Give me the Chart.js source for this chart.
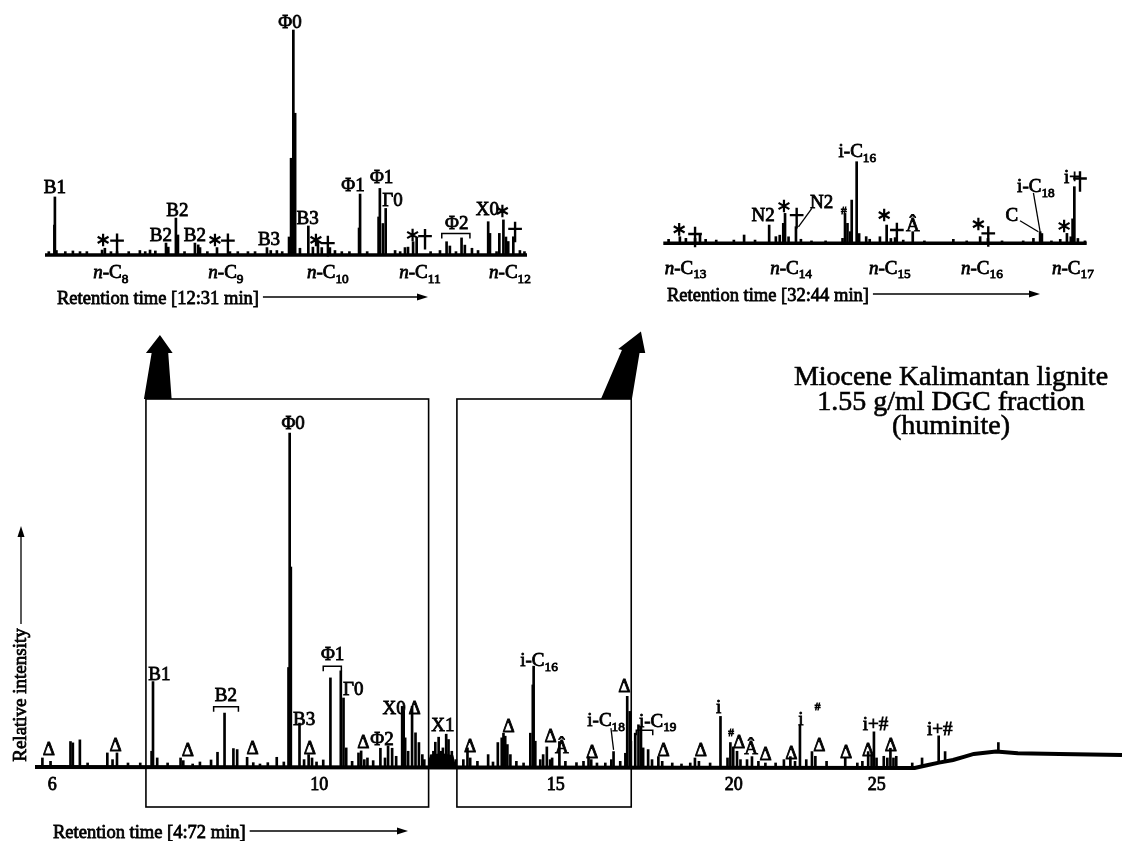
<!DOCTYPE html>
<html><head><meta charset="utf-8">
<script src="https://cdn.jsdelivr.net/npm/chart.js@4.4.1/dist/chart.umd.min.js"></script>
<style>
html,body{margin:0;padding:0;background:#fff;}
#wrap{position:relative;width:1122px;height:841px;overflow:hidden;background:#fff;}
canvas{position:absolute;left:0;top:0;}
</style></head><body>
<div id="wrap">
<canvas id="main" width="1122" height="841"></canvas>
<canvas id="inset1" width="1122" height="841"></canvas>
<canvas id="inset2" width="1122" height="841"></canvas>
</div>
<script>
// ================= DATA =================
// Main chromatogram: retention time (min), relative intensity (Φ0 = 100)
const mainTicks = [6, 10, 15, 20, 25];
const MAIN_T_MIN = 5.79, MAIN_T_MAX = 36.24;
const mainPeakT = [
 5.88,5.98,6.23,6.26,6.35,6.45,6.71,6.78,6.84,6.99,
 7.16,7.32,7.34,7.40,7.55,7.74,7.78,7.92,8.03,8.20,
 8.30,8.41,8.55,8.61,8.77,8.87,8.98,9.11,9.26,9.38,
 9.46,9.48,9.50,9.65,9.73,9.81,9.87,9.95,10.07,10.20,
 10.39,10.44,10.49,10.60,10.72,10.77,10.83,10.89,11.00,11.14,
 11.23,11.29,11.37,11.45,11.57,11.60,11.63,11.69,11.77,11.84,
 11.91,11.98,12.02,12.15,12.21,12.25,12.32,12.37,12.41,12.48,
 12.53,12.60,12.69,12.85,12.94,13.00,13.16,13.40,13.51,13.62,
 13.71,13.75,13.79,13.84,13.91,14.05,14.22,14.38,14.44,14.46,
 14.50,14.62,14.69,14.78,14.86,14.91,15.09,15.24,15.52,15.70,
 15.83,15.90,16.05,16.27,16.43,16.49,16.67,16.81,16.86,16.93,
 16.96,17.08,17.17,17.24,17.30,17.44,17.55,17.73,17.84,18.13,
 18.40,18.66,18.80,18.92,19.26,19.58,19.80,19.89,19.98,20.10,
 20.21,20.42,20.58,20.79,21.02,21.36,21.64,21.86,22.02,22.19,
 22.41,22.61,22.73,23.13,23.81,24.26,24.45,24.67,24.80,24.89,
 24.99,25.27,25.41,25.53,25.65,25.76,26.40];
const mainPeakH = [
 3.0,2.0,7.9,7.5,8.4,1.5,4.5,2.5,4.5,1.5,
 1.5,5.0,25.8,3.0,1.5,3.0,2.2,1.2,1.8,2.4,
 4.7,16.4,5.8,5.5,3.2,1.6,1.2,1.6,3.2,1.8,
 30,100,60,13.4,2.5,4.0,3.0,1.8,2.4,26.9,
 29.0,20.9,6.0,2.0,4.5,5.1,2.5,3.0,2.2,5.9,
 3.0,6.6,5.9,3.5,18.4,17.0,9.0,5.0,18.4,10.5,
 7.6,4.0,2.5,3.0,5.0,7.7,9.2,5.0,6.0,10.1,
 8.5,5.0,2.5,2.5,6.0,3.0,2.0,4.0,1.8,7.6,
 9.0,10.4,9.5,7.0,4.0,2.0,1.5,10.4,24.8,30.4,
 8.0,2.5,4.0,6.3,2.5,3.0,7.9,2.0,1.6,2.0,
 3.4,2.5,1.5,1.5,2.5,4.9,2.0,4.4,21.4,16.9,
 8.0,10.4,12.9,12.5,6.0,5.5,2.5,3.4,2.0,1.5,
 1.2,1.5,3.0,2.0,1.5,15.4,3.0,7.6,6.3,5.0,
 2.5,2.5,3.4,2.0,1.5,1.5,2.5,3.4,2.0,12.8,
 2.5,4.9,3.5,2.0,3.0,1.5,2.0,4.9,4.0,10.8,
 3.0,3.5,3.0,5.9,3.0,3.5,1.5];
const mainBaseT = [5.79,26.5,27.0,27.5,28.1,28.6,29.0,30.0,31.0,33.0,36.24];
const mainBaseY = [0.3,0,0.8,1.6,2.4,3.4,4.2,4.9,4.4,4.2,3.9];
const x1HumpT = [12.11,12.15,12.40,12.62,12.68];
const x1HumpY = [0,3.8,4.2,3.6,0];
const driftPeakT = [26.80,27.49,27.76,30.10];
const driftPeakBase = [0.6,1.6,1.9,4.9];
const driftPeakTop = [3.0,9.6,4.9,7.6];
const boxStart = [7.24,12.71];
const boxEnd = [12.11,16.97];
const mainLabelText = ['B1','B2','B3','Φ0','Φ1','Γ0','Δ','Φ2','X0','Δ','X1','i-C_16','i-C_18','i-C_19','i','#','i','#','i+#','i+#',
 'Δ','Δ','Δ','Δ','Δ','Δ','Δ','Δ','Δ','Δ','Δ','Δ','Δ','Δ','Δ','Δ','Δ','Δ','Δ','Â','Â'];
const mainLabelT = [7.43,8.43,9.73,9.54,10.24,10.62,10.81,11.17,11.41,11.82,12.41,14.59,16.29,17.71,19.52,19.91,22.22,22.81,24.95,27.53,
 5.96,6.82,7.85,8.86,9.83,13.00,13.87,14.87,15.92,16.78,17.88,18.98,20.17,21.03,21.89,22.87,23.84,24.67,25.55,15.15,20.55];
const mainLabelY = [28.2,21.8,14.6,103.0,34.0,23.6,7.9,8.7,17.9,17.9,12.8,32.2,14.3,14.2,18.3,10.8,14.8,18.3,13.3,11.6,
 5.9,6.9,5.4,6.0,6.0,6.6,12.5,9.6,4.8,24.5,5.4,5.4,7.8,4.2,4.6,6.9,4.8,5.4,7.0,6.5,6.2];
const mainBracketStart = [8.24,10.07,17.11];
const mainBracketEnd = [8.63,10.40,17.57];
const mainBracketY = [18.3,30.4,11.3];
const mainLeaderT0 = [16.42], mainLeaderY0 = [11.9], mainLeaderT1 = [16.49], mainLeaderY1 = [5.4];
const mainCaption = 'Retention time [4:72 min]';
const mainYTitle = 'Relative intensity';
const titleLines = ['Miocene Kalimantan lignite','1.55 g/ml DGC fraction','(huminite)'];

// Inset 1: 12–31 min window (Φ0 = 100)
const INS1_T_MIN = 12, INS1_T_MAX = 31;
const ins1PeakT = [
 12.15,12.37,12.39,12.45,12.80,13.10,13.38,13.65,14.25,14.36,
 14.60,14.84,15.30,15.74,15.95,16.14,16.35,16.77,16.86,17.16,
 17.24,17.50,17.91,18.04,18.11,18.40,18.78,19.29,19.60,20.00,
 20.28,20.75,20.90,21.14,21.35,21.62,21.70,21.79,21.86,22.05,
 22.38,22.56,22.76,22.91,23.23,23.43,23.70,24.00,24.38,24.42,
 24.70,25.15,25.20,25.32,25.43,25.80,26.00,26.19,26.31,26.51,
 26.65,27.20,27.57,27.83,27.96,28.20,28.42,28.55,28.83,29.07,
 29.47,29.54,29.80,29.91,30.07,30.17,30.26,30.46,30.72,30.90];
const ins1PeakH = [
 1.5,13.3,25.8,2.0,1.5,1.8,1.5,1.5,2.2,3.0,
 1.5,1.5,1.5,2.0,1.5,2.2,1.8,5.3,3.5,16.4,
 8.9,1.5,5.3,4.5,3.3,1.5,3.3,1.5,1.5,1.5,
 1.5,3.3,2.0,2.0,1.5,8.0,43,100,63,3.0,
 12.9,3.5,5.9,3.3,3.3,2.0,1.5,1.5,12.0,27.1,
 1.5,16.9,29.6,14.0,20.7,2.0,1.5,3.3,3.5,5.9,
 7.4,1.5,2.0,5.9,4.0,1.5,7.6,4.4,3.0,2.0,
 14.8,9.6,1.5,9.6,15.6,8.0,6.0,8.1,2.0,1.5];
const ins1BaseT = [12.0,31.0];
const ins1BaseY = [0,0];
const ins1LabelText = ['B1','*','†','B2','B2','B2','*','†','B3','Φ0','B3','*','†','Φ1','Φ1','Γ0','*','†','Φ2','X0','*','†'];
const ins1LabelT = [12.39,14.29,14.84,16.57,17.22,17.91,18.70,19.21,20.83,21.66,22.35,22.68,23.15,24.14,25.27,25.70,26.49,26.98,28.23,29.44,30.03,30.53];
const ins1LabelY = [30.2,6.7,6.4,8.9,20,8.9,6.7,6.4,7.1,103.6,16.7,6.7,5.3,31.1,34.8,24.4,8.9,8.4,14.2,20.4,19.6,11.6];
const ins1NText = ['n-C_8','n-C_9','n-C_10','n-C_11','n-C_12'];
const ins1NT = [14.59,19.13,23.15,26.78,30.33];
const ins1BracketStart = [27.64], ins1BracketEnd = [28.75], ins1BracketY = [9.6];
const ins1Caption = 'Retention time [12:31 min]';

// Inset 2: 32–44 min window (i-C16 = 100)
const INS2_T_MIN = 32, INS2_T_MAX = 44;
const ins2PeakT = [32.15,32.47,32.64,32.90,33.04,33.20,33.50,34.00,34.29,34.60,
 35.00,35.19,35.30,35.40,35.45,35.55,35.76,35.90,36.20,36.60,
 37.08,37.15,37.22,37.30,37.34,37.48,37.55,37.75,37.85,38.14,
 38.33,38.45,38.57,38.80,39.07,39.40,40.22,40.60,40.98,41.20,
 41.60,42.20,42.49,42.68,42.73,43.00,43.25,43.44,43.55,43.60,
 43.65,43.75,43.95];
const ins2PeakH = [4.9,8.1,6.1,6.1,10.2,4.9,4,4,10.2,4,
 22.4,8.2,10,24.5,36.7,8,20.4,5,3,3,
 6.1,36.7,24.5,14.3,53,100,12,8.2,5,8.1,
 22.4,6,7,4,14.3,3,4.9,3,8.2,6,
 3,3,6.1,14.3,12,3,4.9,12.2,8,30,
 69.4,6,3];
const ins2BaseT = [32.0,44.0];
const ins2BaseY = [0,0];
const ins2LabelText = ['*','†','N2','*','†','N2','#','i-C_16','*','†','Â','*','†','C','i-C_18','*','i+','†'];
const ins2LabelT = [32.45,32.90,34.83,35.42,35.78,36.49,37.12,37.50,38.26,38.62,39.07,40.93,41.21,41.88,42.56,43.36,43.58,43.81];
const ins2LabelY = [17.1,11.4,34.6,45.7,34.6,50.9,40,113.3,34.6,16.3,23,23.6,12.2,34.6,70.1,21.2,81.5,79.4];
const ins2LeaderT0 = [36.21,42.11,42.49], ins2LeaderY0 = [42.8,27.7,61.9];
const ins2LeaderT1 = [35.83,42.63,42.68], ins2LeaderY1 = [20.3,14.2,14.2];
const ins2NText = ['n-C_13','n-C_14','n-C_15','n-C_16','n-C_17'];
const ins2NT = [32.63,35.62,38.42,41.03,43.61];
const ins2Caption = 'Retention time [32:44 min]';

// ================= DRAW HELPERS =================
const OFF = 3; // main axis: log(t + OFF) retention scale
const FONT = '"Liberation Serif","Times New Roman",serif';
const LABEL_SIZE = 19;
const TEXT_STROKE = 0.8;
function fontStr(size, italic){ return (italic ? 'italic ' : '') + size.toFixed(1) + 'px ' + FONT; }
function drawRich(ctx, text, cx, cy, size){
  const k = text.indexOf('_');
  const main = k >= 0 ? text.slice(0, k) : text;
  const sub = k >= 0 ? text.slice(k + 1) : '';
  const parts = [];
  if (main.startsWith('n-')) { parts.push({s:'n', it:true, sz:size}); parts.push({s:main.slice(1), sz:size}); }
  else parts.push({s:main, sz:size});
  if (sub) parts.push({s:sub, sz:size*0.7, dy:size*0.25});
  let w = 0;
  parts.forEach(p => { ctx.font = fontStr(p.sz, p.it); p.w = ctx.measureText(p.s).width; w += p.w; });
  let x = cx - w/2;
  const base = cy + size*0.33;
  ctx.textAlign = 'left'; ctx.textBaseline = 'alphabetic';
  parts.forEach(p => { ctx.font = fontStr(p.sz, p.it); const y = base + (p.dy || 0); ctx.fillText(p.s, x, y); ctx.strokeText(p.s, x, y); x += p.w; });
}
function drawAsterisk(ctx, x, y, r){
  ctx.lineWidth = 2.2; ctx.beginPath();
  for (let k = 0; k < 3; k++) { const a = Math.PI/2 + k*Math.PI/3; ctx.moveTo(x + r*Math.cos(a), y + r*Math.sin(a)); ctx.lineTo(x - r*Math.cos(a), y - r*Math.sin(a)); }
  ctx.stroke();
}
function drawDagger(ctx, x, y, s){
  ctx.lineWidth = 2.4; ctx.beginPath();
  ctx.moveTo(x, y - s*0.38); ctx.lineTo(x, y + s*0.7);
  ctx.moveTo(x - s*0.36, y); ctx.lineTo(x + s*0.36, y); ctx.stroke();
}
function drawLabel(ctx, text, cx, cy, size){
  ctx.save(); ctx.fillStyle = '#000'; ctx.strokeStyle = '#000';
  if (text === '*') drawAsterisk(ctx, cx, cy, size*0.33);
  else if (text === '†') drawDagger(ctx, cx, cy, size);
  else { ctx.lineWidth = TEXT_STROKE; drawRich(ctx, text, cx, cy, text === '#' ? size*0.6 : size); }
  ctx.restore();
}
function drawBrackets(ctx, X, Y, S, E, V){
  ctx.lineWidth = 1.5; ctx.strokeStyle = '#000';
  S.forEach((s, i) => { const y = Y(V[i]); ctx.beginPath(); ctx.moveTo(X(s), y + 5); ctx.lineTo(X(s), y); ctx.lineTo(X(E[i]), y); ctx.lineTo(X(E[i]), y + 5); ctx.stroke(); });
}
function drawLeaders(ctx, X, Y, T0, Y0, T1, Y1){
  ctx.lineWidth = 1.3; ctx.strokeStyle = '#000';
  T0.forEach((t, i) => { ctx.beginPath(); ctx.moveTo(X(t), Y(Y0[i])); ctx.lineTo(X(T1[i]), Y(Y1[i])); ctx.stroke(); });
}
function caption(ctx, text, x, cy, xEnd, size){
  ctx.save(); ctx.fillStyle = '#000'; ctx.strokeStyle = '#000'; ctx.lineWidth = TEXT_STROKE;
  ctx.font = fontStr(size); ctx.textAlign = 'left'; ctx.textBaseline = 'alphabetic';
  const base = cy + size*0.33; ctx.fillText(text, x, base); ctx.strokeText(text, x, base);
  const w = ctx.measureText(text).width; const ly = cy - 1;
  ctx.lineWidth = 1.3; ctx.beginPath(); ctx.moveTo(x + w + 4, ly); ctx.lineTo(xEnd - 8, ly); ctx.stroke();
  ctx.beginPath(); ctx.moveTo(xEnd, ly); ctx.lineTo(xEnd - 11, ly - 3.5); ctx.lineTo(xEnd - 11, ly + 3.5); ctx.closePath(); ctx.fill();
  ctx.restore();
}
const ARROW1 = [[-2,0],[5.7,-46],[0,-46],[14,-64],[26.7,-46],[22.3,-46],[25.7,0]];
const ARROW2 = [[-30.3,0],[-9.3,-49],[-13,-50],[9.7,-67.6],[14,-46],[8.3,-46],[0.7,0]];
function bigArrow(ctx, ax, ay, pts){
  ctx.beginPath(); pts.forEach(([dx, dy], i) => i ? ctx.lineTo(ax + dx, ay + dy) : ctx.moveTo(ax + dx, ay + dy)); ctx.closePath(); ctx.fill();
}
function decoPlugin(id, off, draw){
  return { id, afterDraw(chart){
    const ctx = chart.ctx, xs = chart.scales.x, ys = chart.scales.y;
    const X = t => xs.getPixelForValue(t + off);
    const Y = u => ys.getPixelForValue(u);
    ctx.save(); ctx.fillStyle = '#000'; ctx.strokeStyle = '#000';
    draw(ctx, X, Y, chart.chartArea);
    ctx.restore();
  }};
}
function bars(T, H, off){ return T.map((t, i) => ({x: t + off, y: [0, H[i]]})); }
function line(T, Y, off){ return T.map((t, i) => ({x: t + off, y: Y[i]})); }
function makeChart(id, xScale, yMin, yMax, padding, datasets, plugin){
  return new Chart(document.getElementById(id), {
    type: 'bar',
    data: { datasets },
    options: {
      responsive: false, animation: false, devicePixelRatio: 1, events: [],
      layout: { padding },
      plugins: { legend: {display: false}, tooltip: {enabled: false} },
      scales: {
        x: Object.assign({display: false, offset: false, bounds: 'data', grid: {display: false}}, xScale),
        y: {type: 'linear', display: false, min: yMin, max: yMax, bounds: 'data'}
      }
    },
    plugins: [plugin]
  });
}
function traceDatasets(peaks, base, lw){
  return [
    {type: 'bar', data: peaks, backgroundColor: '#000', borderWidth: 0, barThickness: 2, grouped: false, clip: false, order: 2},
    {type: 'line', data: base, borderColor: '#000', borderWidth: lw, pointRadius: 0, tension: 0, fill: false, clip: false, order: 1}
  ];
}

// ================= MAIN CHART =================
const mainDatasets = traceDatasets(bars(mainPeakT, mainPeakH, OFF), line(mainBaseT, mainBaseY, OFF), 4);
mainDatasets.unshift({type: 'bar', data: driftPeakT.map((t, i) => ({x: t + OFF, y: [driftPeakBase[i], driftPeakTop[i]]})),
  backgroundColor: '#000', borderWidth: 0, barThickness: 2, grouped: false, clip: false, order: 2});
mainDatasets.push({type: 'line', data: line(x1HumpT, x1HumpY, OFF), borderColor: '#000', backgroundColor: '#000',
  borderWidth: 1.5, pointRadius: 0, tension: 0, fill: 'origin', clip: false, order: 1});
makeChart('main', {type: 'logarithmic', min: MAIN_T_MIN + OFF, max: MAIN_T_MAX + OFF}, -11.64, 110.15,
  {left: 35, right: 0, top: 399, bottom: 34}, mainDatasets,
  decoPlugin('mainDeco', OFF, (ctx, X, Y, ca) => {
    ctx.lineWidth = 1.6;
    boxStart.forEach((s, i) => { const x0 = X(s), x1 = X(boxEnd[i]); ctx.strokeRect(x0, ca.top, x1 - x0, ca.bottom - ca.top); });
    bigArrow(ctx, X(boxStart[0]), ca.top, ARROW1);
    bigArrow(ctx, X(boxEnd[1]), ca.top, ARROW2);
    ctx.lineWidth = TEXT_STROKE;
    mainTicks.forEach(t => drawRich(ctx, String(t), X(t), Y(0) + 16, 18));
    mainLabelText.forEach((s, i) => drawLabel(ctx, s, X(mainLabelT[i]), Y(mainLabelY[i]), LABEL_SIZE));
    drawBrackets(ctx, X, Y, mainBracketStart, mainBracketEnd, mainBracketY);
    drawLeaders(ctx, X, Y, mainLeaderT0, mainLeaderY0, mainLeaderT1, mainLeaderY1);
    // y-axis title with arrow
    ctx.save(); ctx.translate(20, 695); ctx.rotate(-Math.PI/2);
    ctx.lineWidth = TEXT_STROKE; drawRich(ctx, mainYTitle, 0, 0, 19); ctx.restore();
    ctx.lineWidth = 1.3; ctx.beginPath(); ctx.moveTo(21, 624); ctx.lineTo(21, 534); ctx.stroke();
    ctx.beginPath(); ctx.moveTo(21, 526); ctx.lineTo(17.5, 537); ctx.lineTo(24.5, 537); ctx.closePath(); ctx.fill();
    caption(ctx, mainCaption, 53, 832, 408, 18.5);
    // title
    ctx.font = fontStr(28); ctx.textAlign = 'center'; ctx.textBaseline = 'alphabetic'; ctx.lineWidth = 0.6;
    [385, 410, 434].forEach((b, i) => { ctx.fillText(titleLines[i], 951, b); ctx.strokeText(titleLines[i], 951, b); });
  }));

// ================= INSET 1 =================
makeChart('inset1', {type: 'linear', min: INS1_T_MIN, max: INS1_T_MAX}, -4, 100,
  {left: 45, right: 595, top: 30, bottom: 577},
  traceDatasets(bars(ins1PeakT, ins1PeakH, 0), line(ins1BaseT, ins1BaseY, 0), 3.5),
  decoPlugin('ins1Deco', 0, (ctx, X, Y) => {
    ins1LabelText.forEach((s, i) => drawLabel(ctx, s, X(ins1LabelT[i]), Y(ins1LabelY[i]), LABEL_SIZE));
    ctx.lineWidth = TEXT_STROKE;
    ins1NText.forEach((s, i) => drawRich(ctx, s, X(ins1NT[i]), Y(0) + 17, 19));
    drawBrackets(ctx, X, Y, ins1BracketStart, ins1BracketEnd, ins1BracketY);
    caption(ctx, ins1Caption, 57, 298, 428, 18.5);
  }));

// ================= INSET 2 =================
makeChart('inset2', {type: 'linear', min: INS2_T_MIN, max: INS2_T_MAX}, -4, 100,
  {left: 663.3, right: 35.3, top: 161.7, bottom: 594.4},
  traceDatasets(bars(ins2PeakT, ins2PeakH, 0), line(ins2BaseT, ins2BaseY, 0), 3.5),
  decoPlugin('ins2Deco', 0, (ctx, X, Y) => {
    ins2LabelText.forEach((s, i) => drawLabel(ctx, s, X(ins2LabelT[i]), Y(ins2LabelY[i]), LABEL_SIZE));
    ctx.lineWidth = TEXT_STROKE;
    ins2NText.forEach((s, i) => drawRich(ctx, s, X(ins2NT[i]), Y(0) + 24, 19));
    drawLeaders(ctx, X, Y, ins2LeaderT0, ins2LeaderY0, ins2LeaderT1, ins2LeaderY1);
    caption(ctx, ins2Caption, 667, 295, 1040, 18.5);
  }));
</script>
</body></html>
